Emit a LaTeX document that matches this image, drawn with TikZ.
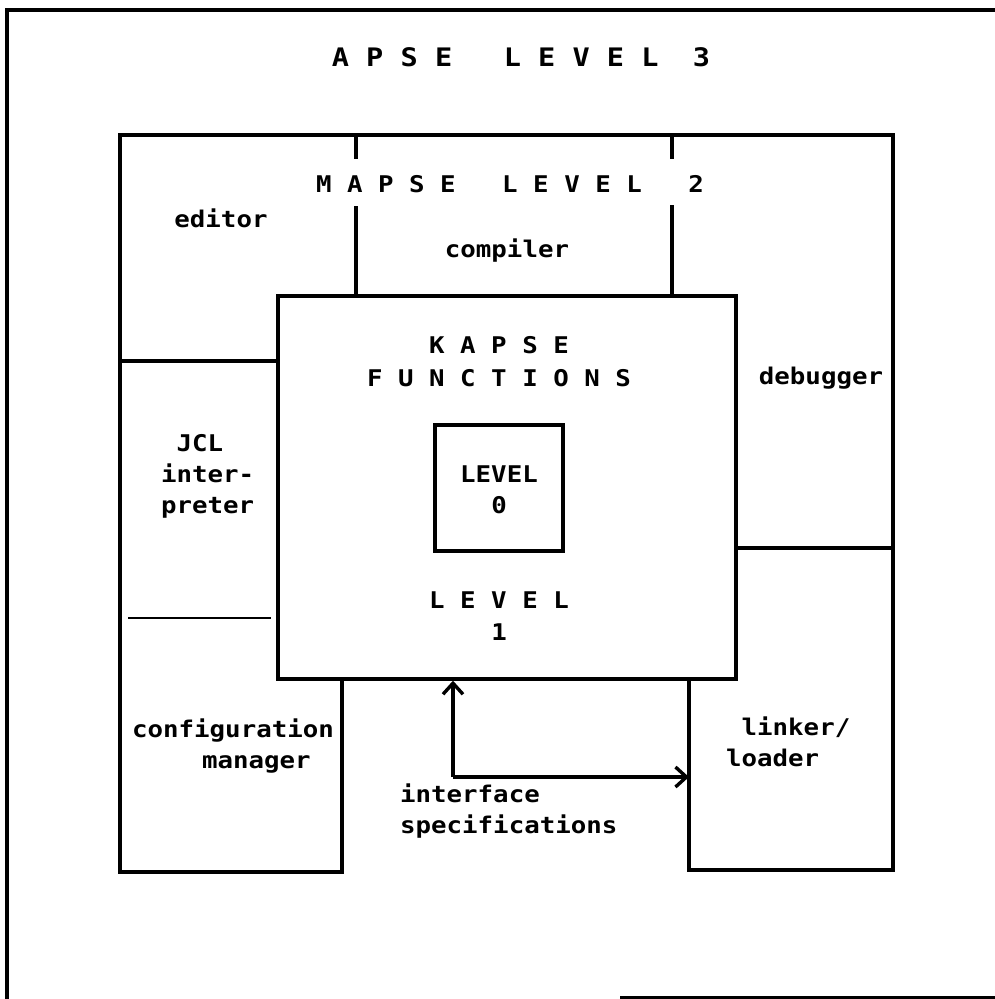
\documentclass[tikz,border=0pt]{standalone}
\usepackage{fontspec}
\newfontfamily\plot{DejaVu Sans Mono}[FakeStretch=1.12]
\usetikzlibrary{arrows.meta}
\begin{document}
\begin{tikzpicture}[x=1pt,y=-1pt,
  ln/.style={line width=3.4pt},
  thin/.style={line width=2.4pt},
  lbl/.style={font=\plot\bfseries\fontsize{23}{31}\selectfont, inner sep=0pt},
  ttl/.style={font=\plot\bfseries\fontsize{25.5}{31}\selectfont, inner sep=0pt},
  arr/.style={line width=3.4pt, -{Straight Barb[length=11pt,width=20pt]}}]
\useasboundingbox (0,0) rectangle (995,999);
% outer APSE frame
\draw[ln] (7,999) -- (7,10) -- (995,10);
\draw[ln] (620,998) -- (995,998);
\node[ttl, anchor=base] (apse) at (521,66) {A~P~S~E~~~L~E~V~E~L~~3};
% MAPSE outline
\draw[ln] (342,679) -- (342,872) -- (120,872) -- (120,135) -- (893,135) -- (893,870) -- (689,870) -- (689,679);
% KAPSE box
\node[draw, ln, minimum width=458, minimum height=383, inner sep=0pt] (kapse) at (507,487.5) {};
\node[draw, ln, minimum width=128, minimum height=126, inner sep=0pt] (lev0) at (499,488) {};
% dividers
\draw[ln] (356,135) -- (356,159);
\draw[ln] (356,206) -- (356,296);
\draw[ln] (672,135) -- (672,159);
\draw[ln] (672,205) -- (672,296);
\draw[ln] (120,361) -- (278,361);
\draw[thin] (128,618) -- (271,618);
\draw[ln] (736,548) -- (893,548);
% labels
\node[lbl, anchor=base] (mapse) at (510,192) {M~A~P~S~E~~~L~E~V~E~L~~~2};
\node[lbl, anchor=base] (editor) at (221,227) {editor};
\node[lbl, anchor=base] (compiler) at (507,257) {compiler};
\node[lbl, anchor=base] (debugger) at (821,384) {debugger};
\node[lbl, anchor=base] (kap) at (499,353) {K~A~P~S~E};
\node[lbl, anchor=base] (fun) at (499,386) {F~U~N~C~T~I~O~N~S};
\node[lbl, anchor=base] (lv0) at (499,482) {LEVEL};
\node[lbl, anchor=base] (zero) at (499,513) {0};
\node[lbl, anchor=base] (lv1) at (499,608) {L~E~V~E~L};
\node[lbl, anchor=base] (one) at (499,640) {1};
\node[lbl, anchor=base west, align=left] (jcl) at (161,513) {~JCL\\inter-\\preter};
\node[lbl, anchor=base west, align=left] (cfg) at (132,768) {configuration\\\hspace*{70pt}manager};
\node[lbl, anchor=base west, align=left] (ifs) at (400,833) {interface\\specifications};
\node[lbl, anchor=base west, align=left] (lnk) at (726,766) {~linker/\\loader};
% interface arrows
\coordinate (ifc) at (453,777);
\coordinate (lnkedge) at (689,777);
\draw[arr] (ifc) -- (ifc |- kapse.south);
\draw[arr] (ifc) -- (lnkedge);
\end{tikzpicture}
\end{document}
